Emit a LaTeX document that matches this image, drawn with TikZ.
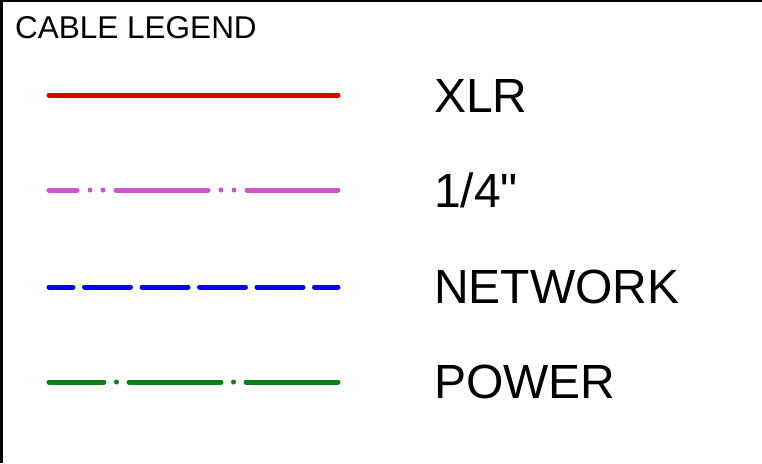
\documentclass[tikz,border=0pt]{standalone}
\usepackage{fontspec}
\setmainfont{Liberation Sans}[Ligatures=TeXOff]
\definecolor{xlrred}{HTML}{DD0000}
\definecolor{quarterpink}{HTML}{CC55CC}
\definecolor{netblue}{HTML}{0000FF}
\definecolor{powergreen}{HTML}{0A7F1A}
\begin{document}
\begin{tikzpicture}[x=1pt,y=-1pt,
  cable/.style={line width=5pt,line cap=round},
  lbl/.style={anchor=base west,inner sep=0pt,font=\fontsize{48}{56}\selectfont},
  ttl/.style={anchor=base west,inner sep=0pt,font=\fontsize{31.5}{38}\selectfont}]
\useasboundingbox[fill=white] (0,0) rectangle (762,463);
% frame (only top and left edges visible)
\draw[line width=3pt] (1.5,463) -- (1.5,0.75);
\draw[line width=1.5pt] (0,0.75) -- (762,0.75);
\node[ttl] (title) at (15,38) {CABLE LEGEND};
% endpoints
\coordinate (a1) at (49,95);  \coordinate (b1) at (338,95);
\coordinate (a2) at (49,190); \coordinate (b2) at (338,190);
\coordinate (a3) at (49,287); \coordinate (b3) at (338,287);
\coordinate (a4) at (49,382); \coordinate (b4) at (338,382);
\draw[cable,xlrred] (a1) -- (b1);
\draw[cable,quarterpink,dash pattern=on 92pt off 13pt on 0pt off 13pt on 0pt off 13pt,dash phase=64pt] (a2) -- (b2);
\draw[cable,netblue,dash pattern=on 46pt off 11.5pt,dash phase=22pt] (a3) -- (b3);
\draw[cable,powergreen,dash pattern=on 92pt off 12.5pt on 0pt off 12.5pt,dash phase=37pt] (a4) -- (b4);
\node[lbl] (l1) at (434,112) {XLR};
\node[lbl] (l2) at (434,207) {1/4"};
\node[lbl] (l3) at (434,303) {NETWORK};
\node[lbl] (l4) at (434,398) {POWER};
\end{tikzpicture}
\end{document}
